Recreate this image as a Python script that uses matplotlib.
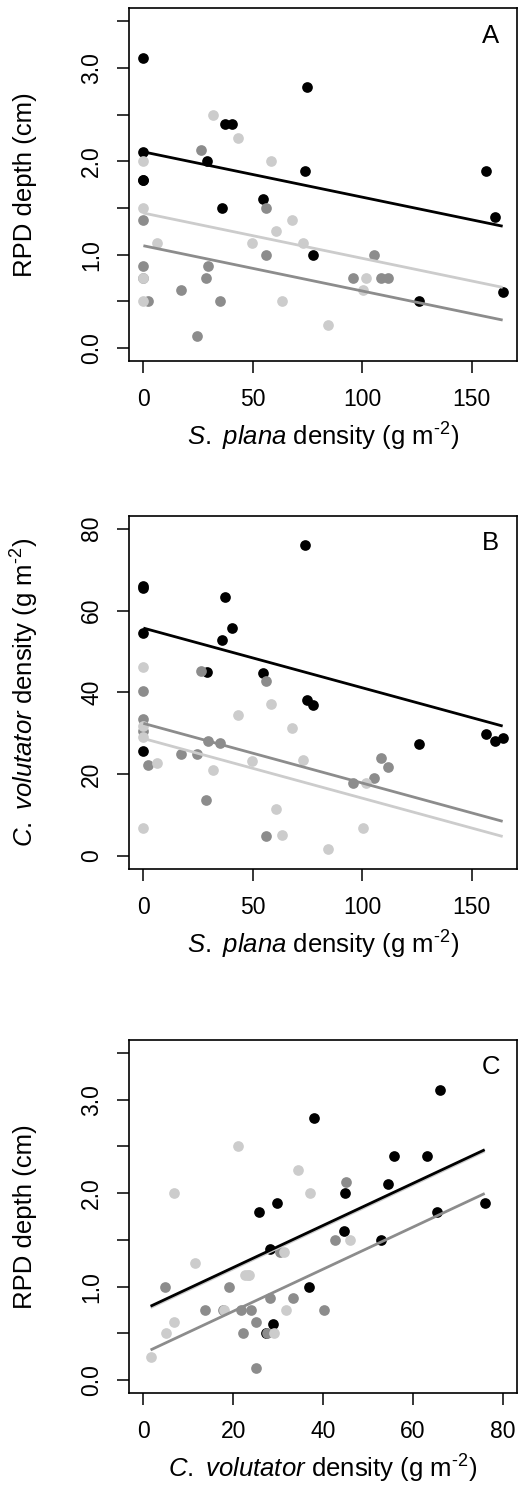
import matplotlib
matplotlib.use('Agg')
import matplotlib.pyplot as plt
import numpy as np

plt.rcParams['font.family'] = ['Liberation Sans', 'DejaVu Sans']
plt.rcParams['mathtext.fontset'] = 'custom'
plt.rcParams['mathtext.rm'] = 'Liberation Sans'
plt.rcParams['mathtext.it'] = 'Liberation Sans:italic'

# three groups of samples: S. plana density, C. volutator density, RPD depth
s_black = [0, 0, 0, 0, 74.7, 37.1, 40.6, 28.9, 73.7, 156.5, 54.6, 36.0, 160.4, 77.4, 126.1, 164.1]
c_black = [66.1, 54.4, 65.4, 25.7, 38.0, 63.2, 55.8, 44.9, 76.0, 29.8, 44.7, 52.9, 28.2, 36.8, 27.4, 28.9]
rpd_black = [3.1, 2.1, 1.8, 1.8, 2.8, 2.4, 2.4, 2.0, 1.9, 1.9, 1.6, 1.5, 1.4, 1.0, 0.5, 0.6]

s_grey = [26.3, 56.1, 0, 56.1, 105.5, 0, 29.6, 28.5, 95.6, 108.6, 111.5, 17.3, 2.0, 34.9, 24.6, 0]
c_grey = [45.2, 42.7, 30.5, 4.8, 19.1, 33.4, 28.2, 13.7, 17.8, 23.9, 21.7, 25.0, 22.2, 27.5, 25.0, 40.3]
rpd_grey = [2.125, 1.5, 1.375, 1.0, 1.0, 0.875, 0.875, 0.75, 0.75, 0.75, 0.75, 0.625, 0.5, 0.5, 0.125, 0.75]

s_light = [31.9, 43.2, 0, 58.2, 0, 67.8, 60.5, 6.4, 49.5, 73.0, 0, 101.8, 100.4, 0, 63.2, 84.2]
c_light = [21.0, 34.5, 6.9, 37.1, 46.1, 31.2, 11.4, 22.7, 23.3, 23.5, 31.8, 17.9, 6.9, 29.0, 5.1, 1.6]
rpd_light = [2.5, 2.25, 2.0, 2.0, 1.5, 1.375, 1.25, 1.125, 1.125, 1.125, 0.75, 0.75, 0.625, 0.5, 0.5, 0.25]

# fitted lines (common slope, one intercept per group: black, grey, light)
slope_a, icpt_a = -0.00485, [2.10, 1.095, 1.445]
slope_b, icpt_b = -0.146, [55.7, 32.4, 28.7]
slope_c, icpt_c = 0.0225, [0.755, 0.287, 0.74]

cols = ['black', '#8c8c8c', '#cccccc']
FS_TICK = 16.5
FS_LAB = 18.5

groups_s = [s_black, s_grey, s_light]
groups_c = [c_black, c_grey, c_light]
groups_r = [rpd_black, rpd_grey, rpd_light]


def rlim(lo, hi):
    d = (hi - lo) * 0.04
    return lo - d, hi + d


def panel(ax, xs, ys, slope, icpts, xlim, ylim, xticks, yticks, ylabels, xlabel, ylabel, letter):
    for x, y, c in zip(xs, ys, cols):
        ax.plot(x, y, 'o', color=c, markersize=7.7, markeredgewidth=0, zorder=3)
    allx = np.concatenate([np.asarray(v) for v in xs])
    xx = np.array([allx.min(), allx.max()])
    for k in [2, 1, 0]:
        ax.plot(xx, icpts[k] + slope * xx, color=cols[k], lw=2.0, zorder=4,
                solid_capstyle='butt')
    ax.set_xlim(*xlim)
    ax.set_ylim(*ylim)
    ax.set_xticks(xticks)
    ax.set_yticks(yticks)
    ax.set_yticklabels(ylabels, rotation=90, va='center')
    ax.tick_params(direction='out', length=8.5, width=1.1, labelsize=FS_TICK)
    ax.tick_params(axis='x', pad=11)
    ax.tick_params(axis='y', pad=10)
    for sp in ax.spines.values():
        sp.set_linewidth(1.2)
    ax.set_xlabel(xlabel, fontsize=FS_LAB)
    ax.set_ylabel(ylabel, fontsize=FS_LAB)
    ax.xaxis.set_label_coords(0.5, -0.215)
    ax.yaxis.set_label_coords(-0.268, 0.5)
    ax.xaxis.label.set_va('center')
    ax.yaxis.label.set_va('center')
    ax.text(0.932, 0.922, letter, transform=ax.transAxes, fontsize=FS_LAB,
            ha='center', va='center')


fig = plt.figure(figsize=(5.19, 14.92), dpi=100)
axA = fig.add_axes([0.2486, 0.7580, 0.7476, 0.2366])
axB = fig.add_axes([0.2486, 0.4176, 0.7476, 0.2368])
axC = fig.add_axes([0.2486, 0.0662, 0.7476, 0.2368])

s_all = np.concatenate([np.asarray(v) for v in groups_s])
xlim_s = rlim(s_all.min(), s_all.max())
rpd_lim = rlim(0, 3.5)
rpd_ticks = np.arange(0, 3.51, 0.5)
rpd_labels = ['0.0', '', '1.0', '', '2.0', '', '3.0', '']

xlab_s = r'$\mathit{S.\ plana}$ density (g m$^{\mathregular{\text{-}2}}$)'
xlab_c = r'$\mathit{C.\ volutator}$ density (g m$^{\mathregular{\text{-}2}}$)'

panel(axA, groups_s, groups_r, slope_a, icpt_a, xlim_s, rpd_lim,
      [0, 50, 100, 150], rpd_ticks, rpd_labels, xlab_s, 'RPD depth (cm)', 'A')
panel(axB, groups_s, groups_c, slope_b, icpt_b, xlim_s, rlim(0, 80),
      [0, 50, 100, 150], [0, 20, 40, 60, 80], ['0', '20', '40', '60', '80'],
      xlab_s, xlab_c, 'B')
panel(axC, groups_c, groups_r, slope_c, icpt_c, rlim(0, 80), rpd_lim,
      [0, 20, 40, 60, 80], rpd_ticks, rpd_labels, xlab_c, 'RPD depth (cm)', 'C')

fig.savefig('out.png', dpi=100)
